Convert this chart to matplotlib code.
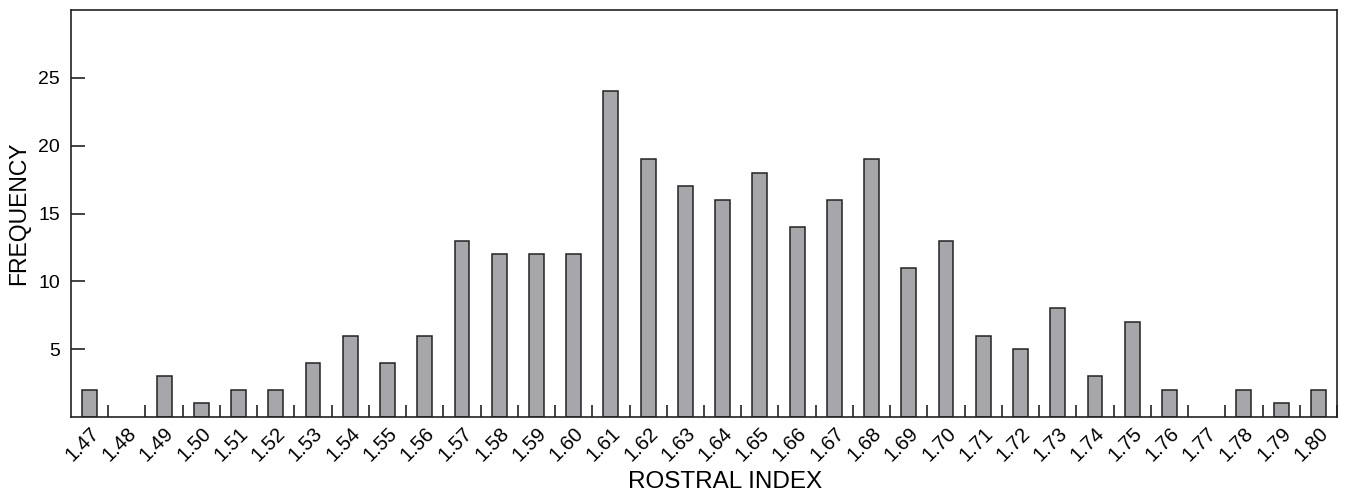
import numpy as np
import matplotlib.pyplot as plt

plt.rcParams['font.family'] = ['Liberation Sans', 'DejaVu Sans']

# rostral index classes and their counts
index_labels = ['1.47', '1.48', '1.49', '1.50', '1.51', '1.52', '1.53', '1.54', '1.55', '1.56',
                '1.57', '1.58', '1.59', '1.60', '1.61', '1.62', '1.63', '1.64', '1.65', '1.66',
                '1.67', '1.68', '1.69', '1.70', '1.71', '1.72', '1.73', '1.74', '1.75', '1.76',
                '1.77', '1.78', '1.79', '1.80']
frequency = [2, 0, 3, 1, 2, 2, 4, 6, 4, 6,
             13, 12, 12, 12, 24, 19, 17, 16, 18, 14,
             16, 19, 11, 13, 6, 5, 8, 3, 7, 2,
             0, 2, 1, 2]
y_ticks = [5, 10, 15, 20, 25]

fig = plt.figure(figsize=(13.46, 4.94), dpi=100)
ax = fig.add_axes([71/1346, 77/494, (1337-71)/1346, (417-10)/494])

x = np.arange(len(index_labels))
freq = np.array(frequency)
nz = freq > 0  # empty classes have no bar drawn
ax.bar(x[nz], freq[nz], width=0.4, color='#a7a7ab', edgecolor='#222222', linewidth=1.1)

ax.set_xlim(-0.5, len(index_labels) - 0.5)
ax.set_ylim(0, 30)

ax.set_xticks(x)
ax.set_xticklabels(index_labels, rotation=45, ha='right', rotation_mode='anchor', fontsize=14.5)
ax.tick_params(axis='x', length=0, pad=5)
ax.set_xticks(np.arange(len(index_labels)) + 0.5, minor=True)
ax.tick_params(axis='x', which='minor', direction='in', length=9, width=1.2, color='#222222')

ax.set_yticks(y_ticks)
ax.tick_params(axis='y', direction='in', length=10, width=1.2, color='#222222', labelsize=14, pad=8)

for s in ax.spines.values():
    s.set_linewidth(1.2)
    s.set_color('#222222')

# x label placed by hand so it stays inside the figure
fig.text(725/1346, 1 - 482/494, 'ROSTRAL INDEX', fontsize=17.5, ha='center', va='center')
ax.set_ylabel('FREQUENCY', fontsize=16.5, labelpad=6)

fig.savefig('out.png', dpi=100)
